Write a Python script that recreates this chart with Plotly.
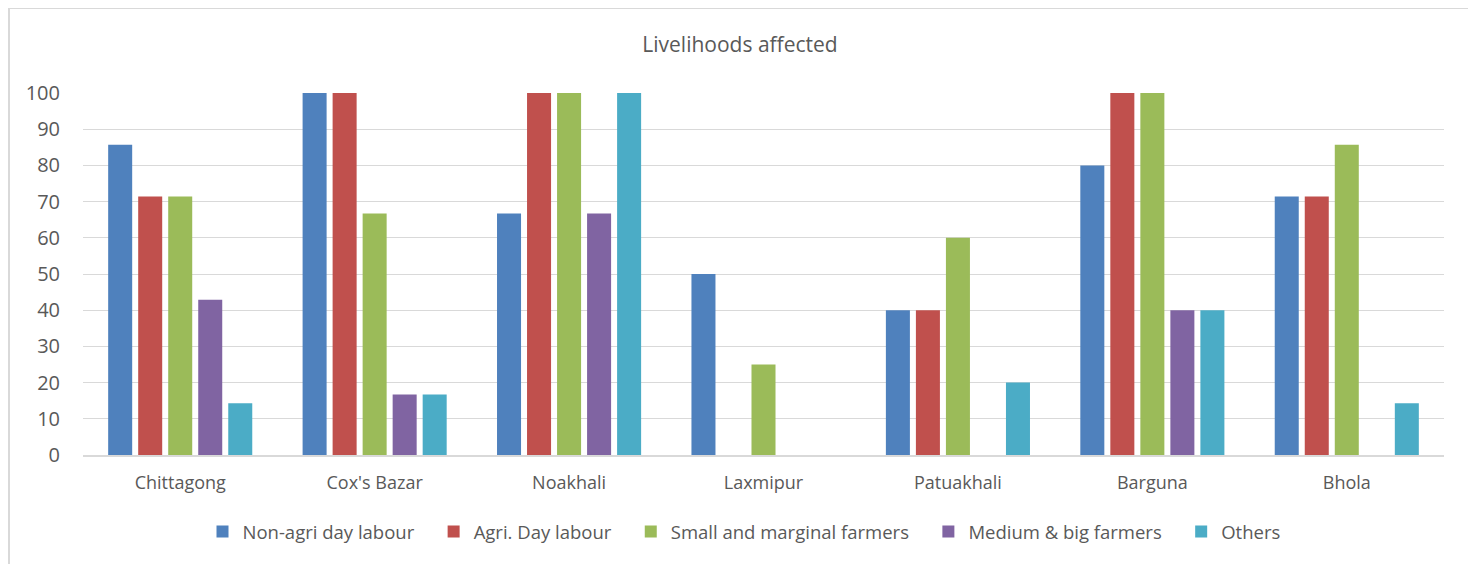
import plotly.graph_objects as go

categories = ["Chittagong", "Cox's Bazar", "Noakhali", "Laxmipur", "Patuakhali", "Barguna", "Bhola"]
series_names = ["Non-agri day labour", "Agri. Day labour", "Small and marginal farmers", "Medium & big farmers", "Others"]
non_agri = [85.7, 100, 66.7, 50, 40, 80, 71.4]
agri = [71.4, 100, 100, 0, 40, 100, 71.4]
small_farmers = [71.4, 66.7, 100, 25, 60, 100, 85.7]
medium_farmers = [42.9, 16.7, 66.7, 0, 0, 40, 0]
others = [14.3, 16.7, 100, 0, 20, 40, 14.3]
y_ticks = [0, 10, 20, 30, 40, 50, 60, 70, 80, 90, 100]

colors = ["#4F81BD", "#C0504D", "#9BBB59", "#8064A2", "#4BACC6"]
values = [non_agri, agri, small_farmers, medium_farmers, others]

font_family = "Open Sans, Liberation Sans, sans-serif"
fig = go.Figure()
for i, (name, vals, col) in enumerate(zip(series_names, values, colors)):
    label = name + ("\u00a0" * 3 if i < len(series_names) - 1 else "")
    fig.add_trace(go.Bar(x=categories, y=vals, name=label, marker=dict(color=col, line=dict(width=0))))

# page body has an 8px offset; plot area targeted at x 83..1444, y 93..455 on screen
fig.update_layout(
    width=1476, height=564,
    margin=dict(l=75, r=40, t=85, b=117),
    paper_bgcolor="white", plot_bgcolor="white",
    barmode="group", bargap=0.228, bargroupgap=0.2,
    title=dict(text="Livelihoods affected", x=(740 - 8) / 1476, xanchor="center", y=1 - 37 / 564, yanchor="middle",
               font=dict(family=font_family, size=21, color="#595959")),
    font=dict(family=font_family, color="#595959"),
    xaxis=dict(showgrid=False, showline=True, linecolor="#D9D9D9", linewidth=2, ticks="",
               tickfont=dict(size=18, color="#595959"), ticklabelstandoff=10),
    yaxis=dict(range=[0, 100], tickvals=y_ticks, showgrid=True, gridcolor="#D9D9D9", gridwidth=1,
               zeroline=False, showline=False, ticks="", ticklen=0,
               tickfont=dict(size=20, color="#595959"), ticklabelstandoff=22),
    legend=dict(orientation="h", x=(744 - 83) / 1361, xanchor="center", y=(455 - 532) / 362, yanchor="middle",
                font=dict(size=18.5, color="#595959"), traceorder="normal", itemwidth=30),
    showlegend=True,
)
fig.add_shape(type="rect", xref="paper", yref="paper",
              x0=(9 - 83) / 1361, x1=(1473 - 83) / 1361, y0=(455 - 580) / 362, y1=(455 - 8) / 362,
              line=dict(color="#D9D9D9", width=2), fillcolor="rgba(0,0,0,0)", layer="below")

fig.write_html("out.html")
